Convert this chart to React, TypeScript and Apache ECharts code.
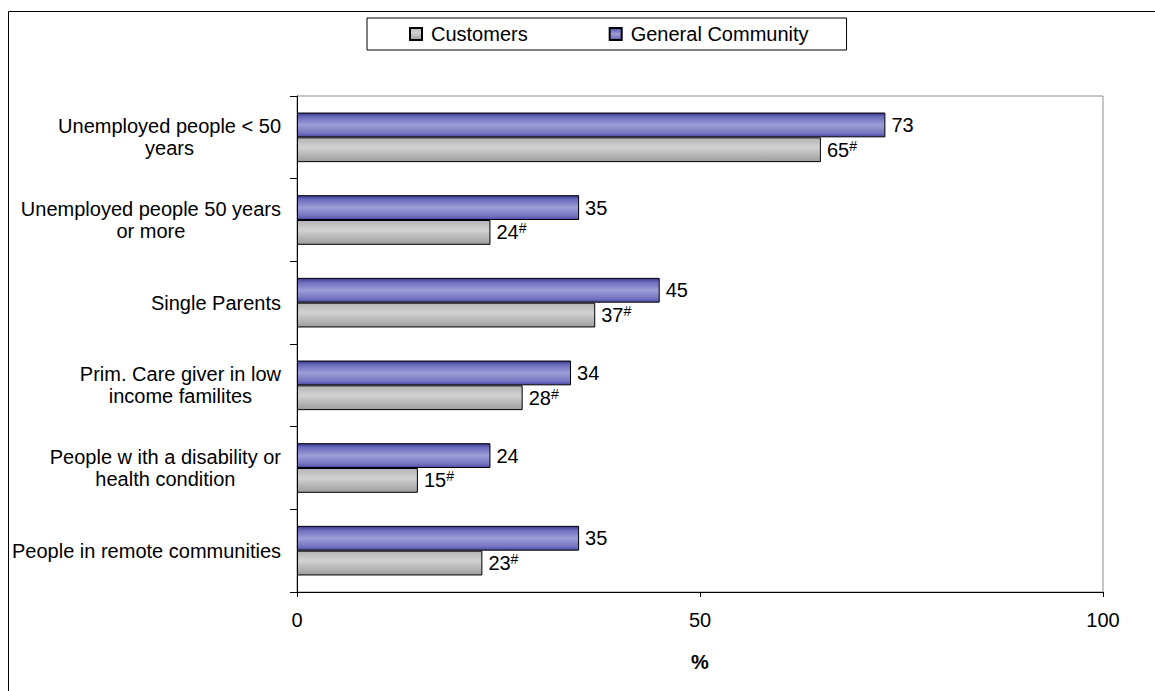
import React, { useEffect, useRef } from "react";
import * as echarts from "echarts";

const categories = [
  "Unemployed people < 50\nyears",
  "Unemployed people 50 years\nor more",
  "Single Parents",
  "Prim. Care giver in low\nincome familites",
  "People w ith a disability or\nhealth condition",
  "People in remote communities",
];
const customers = [65, 24, 37, 28, 15, 23];
const community = [73, 35, 45, 34, 24, 35];
const customerMarks = ["#", "#", "#", "#", "#", "#"];
const xTicks = [0, 50, 100];
const seriesNames = ["Customers", "General Community"];
const axisTitle = "%";

const FONT = "'Liberation Sans', Arial, sans-serif";

export default function App() {
  const ref = useRef<HTMLDivElement>(null);
  useEffect(() => {
    document.body.style.margin = "0";
    document.body.style.overflow = "hidden";
    const chart = echarts.init(ref.current!, null, { renderer: "svg" });
    const grayGrad = new echarts.graphic.LinearGradient(0, 0, 0, 1, [
      { offset: 0, color: "#b4b4b4" },
      { offset: 0.4, color: "#d2d2d2" },
      { offset: 1, color: "#9e9e9e" },
    ]);
    const blueGrad = new echarts.graphic.LinearGradient(0, 0, 0, 1, [
      { offset: 0, color: "#34348e" },
      { offset: 0.15, color: "#6a6abc" },
      { offset: 0.5, color: "#9e9ed7" },
      { offset: 0.85, color: "#7474c0" },
      { offset: 1, color: "#4a4aa6" },
    ]);
    chart.setOption({
      animation: false,
      backgroundColor: "#ffffff",
      textStyle: { fontFamily: FONT },
      graphic: [
        {
          type: "rect",
          shape: { x: 8.5, y: 11.5, width: 1300, height: 900 },
          style: { fill: "none", stroke: "#000", lineWidth: 1 },
          silent: true,
          z: -10,
        },
      ],
      legend: {
        data: seriesNames,
        left: 367,
        top: 18,
        padding: [6, 38, 6, 42],
        itemGap: 81,
        itemWidth: 12,
        itemHeight: 12,
        icon: "rect",
        borderColor: "#000",
        borderWidth: 1,
        backgroundColor: "#fff",
        textStyle: { fontSize: 20, color: "#000", fontFamily: FONT, padding: [0, 0, 0, 4] },
      },
      grid: {
        left: 297,
        right: 52,
        top: 96,
        bottom: 99,
        show: true,
        borderColor: "#8c8c8c",
        borderWidth: 1,
      },
      xAxis: {
        type: "value",
        min: xTicks[0],
        max: xTicks[xTicks.length - 1],
        interval: xTicks[1] - xTicks[0],
        name: axisTitle,
        nameLocation: "middle",
        nameGap: 60,
        nameTextStyle: { fontSize: 20, fontWeight: "bold", color: "#000", fontFamily: FONT },
        axisLine: { show: true, lineStyle: { color: "#000", width: 1 } },
        axisTick: { show: true, length: 5, lineStyle: { color: "#000" } },
        splitLine: { show: false },
        axisLabel: { fontSize: 20, color: "#000", margin: 18, fontFamily: FONT },
      },
      yAxis: {
        type: "category",
        inverse: true,
        data: categories,
        axisLine: { show: true, lineStyle: { color: "#000", width: 1 } },
        axisTick: { show: true, length: 7, lineStyle: { color: "#000" } },
        axisLabel: {
          margin: 16,
          color: "#000",
          fontSize: 20,
          lineHeight: 22,
          fontFamily: FONT,
          formatter: (v: string) =>
            v
              .split("\n")
              .map((l) => `{c|${l}}`)
              .join("\n"),
          rich: {
            c: { align: "center", fontSize: 20, lineHeight: 22, color: "#000", fontFamily: FONT },
          },
        },
      },
      series: [
        {
          name: seriesNames[1],
          type: "bar",
          data: community,
          barGap: "0%",
          barCategoryGap: "40%",
          itemStyle: { color: blueGrad, borderColor: "#000", borderWidth: 1 },
          label: {
            show: true,
            position: "right",
            distance: 6,
            color: "#000",
            fontSize: 20,
            fontFamily: FONT,
          },
        },
        {
          name: seriesNames[0],
          type: "bar",
          data: customers,
          barGap: "0%",
          barCategoryGap: "40%",
          itemStyle: { color: grayGrad, borderColor: "#000", borderWidth: 1 },
          label: {
            show: true,
            position: "right",
            distance: 6,
            color: "#000",
            fontSize: 20,
            fontFamily: FONT,
            formatter: (p: any) => `{v|${p.value}}{s|${customerMarks[p.dataIndex]}}`,
            rich: {
              v: { fontSize: 20, color: "#000", fontFamily: FONT },
              s: { fontSize: 14, color: "#000", fontFamily: FONT, verticalAlign: "top", padding: [0, 0, 8, 0] },
            },
          },
        },
      ],
    });
    return () => chart.dispose();
  }, []);
  return <div ref={ref} style={{ width: 1155, height: 691 }} />;
}
